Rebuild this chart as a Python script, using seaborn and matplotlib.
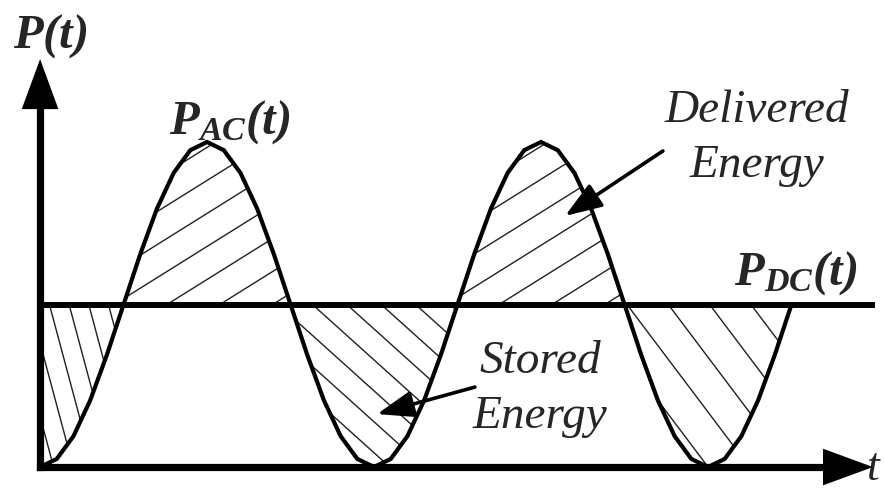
import seaborn as sns
import matplotlib.pyplot as plt
from matplotlib.collections import LineCollection
from matplotlib.transforms import IdentityTransform

# ---- values (time in periods, power in units of P_DC) ----
t_period = [0.00, 0.05, 0.10, 0.15, 0.20, 0.25, 0.30, 0.35, 0.40, 0.45,
            0.50, 0.55, 0.60, 0.65, 0.70, 0.75, 0.80, 0.85, 0.90, 0.95,
            1.00, 1.05, 1.10, 1.15, 1.20, 1.25, 1.30, 1.35, 1.40, 1.45,
            1.50, 1.55, 1.60, 1.65, 1.70, 1.75, 1.80, 1.85, 1.90, 1.95,
            2.00, 2.05, 2.10, 2.15, 2.20, 2.25]
p_ac = [0.00, 0.05, 0.19, 0.41, 0.69, 1.00, 1.31, 1.59, 1.81, 1.95,
        2.00, 1.95, 1.81, 1.59, 1.31, 1.00, 0.69, 0.41, 0.19, 0.05,
        0.00, 0.05, 0.19, 0.41, 0.69, 1.00, 1.31, 1.59, 1.81, 1.95,
        2.00, 1.95, 1.81, 1.59, 1.31, 1.00, 0.69, 0.41, 0.19, 0.05,
        0.00, 0.05, 0.19, 0.41, 0.69, 1.00]
p_dc = 1.0

# shaded regions between P_AC and P_DC (in periods)
region_start = [0.00, 0.25, 0.75, 1.25, 1.75]
region_end = [0.25, 0.75, 1.25, 1.75, 2.25]

# hatch look per region: line angle (deg) and gap between lines (px)
hatch_angle = [-75, 32, -42, 32, -53]
hatch_gap = [19, 28, 23, 28, 33]
hatch_shift = [4, 10, 6, 2, 12]

sns.set_theme(style="white")
plt.rcParams["font.family"] = ["Liberation Serif", "DejaVu Serif"]
plt.rcParams["mathtext.fontset"] = "custom"
plt.rcParams["mathtext.bf"] = "Liberation Serif:bold:italic"
plt.rcParams["mathtext.it"] = "Liberation Serif:bold:italic"
plt.rcParams["mathtext.rm"] = "Liberation Serif:bold:italic"

W, H = 884, 489
fig = plt.figure(figsize=(W / 100, H / 100), dpi=100, facecolor="white")
ax = fig.add_axes([0, 0, 1, 1])
ax.set_xlim(-0.12, 2.527)
ax.set_ylim(-0.129, 2.88)
ax.axis("off")


def hatch(poly, angle, gap, shift):
    # parallel lines in pixel space, clipped to the filled region
    import math
    a = math.radians(angle)
    dx, dy = math.cos(a), math.sin(a)
    nx, ny = -dy, dx
    cx, cy = W / 2, H / 2
    segs = []
    k = -60
    while k <= 60:
        off = k * gap + shift
        px, py = cx + off * nx, cy + off * ny
        segs.append([(px - 1200 * dx, py - 1200 * dy), (px + 1200 * dx, py + 1200 * dy)])
        k += 1
    lc = LineCollection(segs, colors="#202020", linewidths=1.0,
                        transform=IdentityTransform(), zorder=2)
    lc.set_clip_path(poly.get_paths()[0], ax.transData)
    ax.add_collection(lc, autolim=False)


for t0, t1, ang, gap, sh in zip(region_start, region_end, hatch_angle, hatch_gap, hatch_shift):
    idx = [i for i, t in enumerate(t_period) if t0 - 1e-9 <= t <= t1 + 1e-9]
    tt = [t_period[i] for i in idx]
    pp = [p_ac[i] for i in idx]
    poly = ax.fill_between(tt, pp, p_dc, facecolor="none", edgecolor="none")
    hatch(poly, ang, gap, sh)

# P_AC curve
sns.lineplot(x=t_period, y=p_ac, color="black", linewidth=3, ax=ax, zorder=4)
ax.lines[-1].set_solid_joinstyle("miter")

# P_DC level
ax.plot([0, 2.5], [p_dc, p_dc], color="black", linewidth=4.3,
        solid_capstyle="butt", zorder=5)

# axes with arrow heads
ax.plot([0, 0], [0, 2.3], color="black", linewidth=5.2,
        solid_capstyle="projecting", zorder=6)
ax.plot([0, 2.35], [0, 0], color="black", linewidth=5.2,
        solid_capstyle="projecting", zorder=6)
head = dict(arrowstyle="-|>,head_length=0.9,head_width=0.33", mutation_scale=40,
            lw=0, color="black", shrinkA=0, shrinkB=0)
ax.annotate("", xy=(0, 2.51), xytext=(0, 0), arrowprops=head, zorder=6)
ax.annotate("", xy=(2.494, 0), xytext=(0, 0), arrowprops=head, zorder=6)

# pointer arrows
ptr = dict(arrowstyle="-|>,head_length=0.75,head_width=0.27", mutation_scale=30,
           lw=2.6, color="black", shrinkA=0, shrinkB=0)
ax.annotate("", xy=(1.572, 1.545), xytext=(1.865, 1.945), arrowprops=ptr, zorder=7)
ax.annotate("", xy=(1.009, 0.326), xytext=(1.302, 0.492), arrowprops=ptr, zorder=7)

# labels
ax.text(0.03, 2.585, r"$\mathbf{P(t)}$", fontsize=35, ha="center", va="baseline")
ax.text(0.569, 2.06, r"$\mathbf{P_{AC}(t)}$", fontsize=35, ha="center", va="baseline")
ax.text(2.263, 1.126, r"$\mathbf{P_{DC}(t)}$", fontsize=35, ha="center", va="baseline")
ax.text(2.147, 2.129, "Delivered", fontsize=34, fontstyle="italic", ha="center", va="baseline")
ax.text(2.147, 1.79, "Energy", fontsize=34, fontstyle="italic", ha="center", va="baseline")
ax.text(1.497, 0.585, "Stored", fontsize=34, fontstyle="italic", ha="center", va="baseline")
ax.text(1.497, 0.246, "Energy", fontsize=34, fontstyle="italic", ha="center", va="baseline")
ax.text(2.495, -0.075, "t", fontsize=33, fontstyle="italic", ha="center", va="baseline")

fig.savefig("out.png", dpi=100, facecolor="white")
